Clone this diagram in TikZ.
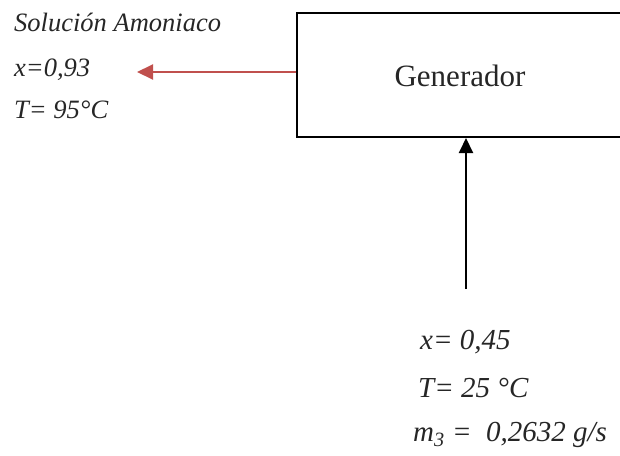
\documentclass[tikz,border=0pt]{standalone}
\usepackage{fontspec}
\setmainfont{Liberation Serif}
\usetikzlibrary{arrows.meta}
\definecolor{redarrow}{HTML}{C0504D}
\definecolor{txt}{HTML}{262626}
\tikzset{
  lbl/.style={anchor=west, inner sep=0pt, text=txt, font=\fontsize{26.5}{30}\selectfont\itshape},
  lblb/.style={anchor=west, inner sep=0pt, text=txt, font=\fontsize{29}{33}\selectfont\itshape},
  genbox/.style={draw=black, line width=2pt, minimum width=328pt, minimum height=124pt, inner sep=0pt},
  redflow/.style={draw=redarrow, line width=2pt, -{Triangle[length=16pt,width=15pt]}},
  blackflow/.style={draw=black, line width=2pt, -{Triangle[length=15pt,width=14pt]}}
}
\begin{document}
\begin{tikzpicture}[x=1pt,y=-1pt]
\useasboundingbox (0,0) rectangle (620,455);
\clip (0,0) rectangle (620,455);
\node[genbox] (gen) at (461,75) {};
\node[inner sep=0pt, font=\fontsize{31}{36}\selectfont, text=txt] (gentext) at (460,76) {Generador};
\node[lbl] (sol) at (14,22) {Solución Amoniaco};
\node[lbl] (x1) at (14,70) {x=0,93};
\node[lbl] (t1) at (14,110) {T= 95°C};
\node[lblb] (x2) at (420,342) {x= 0,45};
\node[lblb] (t2) at (418,388) {T= 25 °C};
\node[lblb] (m3) at (413,435) {m\textsubscript{3} =\ \ 0,2632 g/s};
\coordinate (redend) at (137,72);
\coordinate (blkstart) at (466,289);
\draw[redflow] (gen.west |- redend) -- (redend);
\draw[blackflow] (blkstart) -- (blkstart |- gen.south);
\end{tikzpicture}
\end{document}
